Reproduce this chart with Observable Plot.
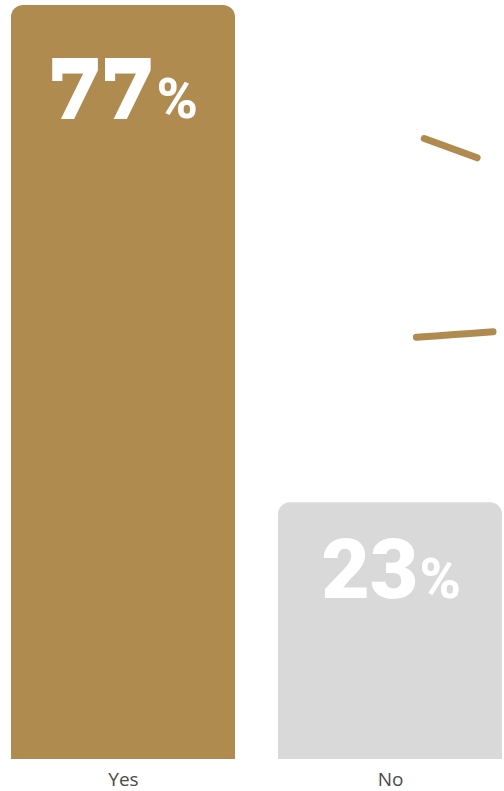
<!DOCTYPE html>
<html>
<head>
<meta charset="utf-8">
<script src="https://cdn.jsdelivr.net/npm/d3@7"></script>
<script src="https://cdn.jsdelivr.net/npm/@observablehq/plot@0.6"></script>
<style>
  html, body { margin: 0; padding: 0; background: #fff; }
</style>
</head>
<body>
<div id="chart"></div>
<script>
// Data
const categories = ["Yes", "No"];
const values = [77, 23];
const barColors = ["#B08B4F", "#D9D9D9"];
const valueLabels = ["77", "23"];
const yBase = -4.9; // bars extend a little below the zero line in the original
// decorative strokes: u = fraction across the "No" band, v = value on y scale
const decorStroke1 = [{u: 0.653, v: 62.5}, {u: 0.889, v: 60.4}];
const decorStroke2 = [{u: 0.618, v: 40.9}, {u: 0.787, v: 41.2}, {u: 0.96, v: 41.5}];

const data = categories.map((c, i) => ({cat: c, value: values[i], color: barColors[i], label: valueLabels[i]}));

function decor(index, scales) {
  const x = scales.x, y = scales.y;
  const bw = x.bandwidth ? x.bandwidth() : scales.scales.x.bandwidth;
  const x0 = x("No");
  const g = d3.create("svg:g");
  const line = d3.line().curve(d3.curveCatmullRom).x(d => x0 + d.u * bw).y(d => y(d.v));
  for (const s of [decorStroke1, decorStroke2]) {
    g.append("path")
      .attr("d", line(s))
      .attr("fill", "none")
      .attr("stroke", barColors[0])
      .attr("stroke-width", 7)
      .attr("stroke-linecap", "round");
  }
  return g.node();
}

const yes = data.filter(d => d.cat === "Yes");
const no = data.filter(d => d.cat === "No");

const chart = Plot.plot({
  width: 504,
  height: 791,
  marginTop: 5,
  marginBottom: 32,
  marginLeft: 10,
  marginRight: 1,
  style: {fontFamily: "'Open Sans', sans-serif", background: "#fff"},
  x: {domain: categories, paddingInner: 0.16, paddingOuter: 0, label: null},
  y: {domain: [yBase, 77], axis: null},
  marks: [
    Plot.rectY(data, {x: "cat", y1: yBase, y2: "value", fill: "color", ry2: 12}),
    decor,
    Plot.text(yes, {x: "cat", y: "value", text: "label", textAnchor: "end", lineAnchor: "bottom", dx: 31, dy: 110,
      fill: "#fff", stroke: "#fff", strokeWidth: 5, strokeLinejoin: "miter",
      fontSize: 76, fontWeight: "bold", fontFamily: "'DejaVu Serif', serif"}),
    Plot.text(yes, {x: "cat", y: "value", text: d => "%", textAnchor: "start", lineAnchor: "bottom", dx: 33, dy: 112,
      fill: "#fff", fontSize: 56, fontWeight: 800, fontFamily: "Roboto, sans-serif"}),
    Plot.text(no, {x: "cat", y: "value", text: "label", textAnchor: "end", lineAnchor: "bottom", dx: 28, dy: 95,
      fill: "#fff", fontSize: 84, fontWeight: 900, fontFamily: "Roboto, sans-serif"}),
    Plot.text(no, {x: "cat", y: "value", text: d => "%", textAnchor: "start", lineAnchor: "bottom", dx: 29, dy: 95,
      fill: "#fff", fontSize: 56, fontWeight: 800, fontFamily: "Roboto, sans-serif"}),
    Plot.axisX({tickSize: 0, tickPadding: 13, fontSize: 19, fill: "#4a4a4a", label: null, lineAnchor: "top"})
  ]
});
document.getElementById("chart").appendChild(chart);
</script>
</body>
</html>
